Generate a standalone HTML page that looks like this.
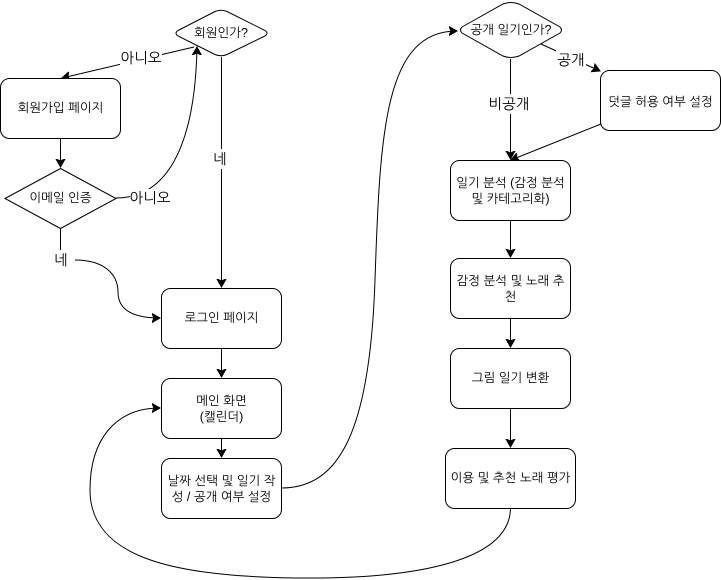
<!DOCTYPE html>
<html><head><meta charset="utf-8">
<style>
html,body{margin:0;padding:0;background:#fff;width:721px;height:580px;overflow:hidden}
svg{display:block}
text{font-family:"Liberation Sans","NanumGothic","Noto Sans CJK KR",sans-serif;font-size:12.5px;fill:#000;text-anchor:middle}
.l{font-size:14.5px}
.n{fill:#fff;stroke:#000;stroke-width:1}
.e{fill:none;stroke:#000;stroke-width:1}
</style></head><body>
<svg width="721" height="580" viewBox="0 0 721 580" xmlns="http://www.w3.org/2000/svg">
<defs><marker id="a" markerUnits="userSpaceOnUse" markerWidth="12" markerHeight="12" refX="8" refY="5" orient="auto" viewBox="0 0 12 10"><path d="M0 0.5L8 5L0 9.500L2 5Z" fill="#000" stroke="#000"/></marker></defs>

<path class="e" d="M194 47L62 78" marker-end="url(#a)"/>
<path class="e" d="M60.500 138.500V167" marker-end="url(#a)"/>
<path class="e" d="M116 198C165 198 195 150 197 47" marker-end="url(#a)"/>
<path class="e" d="M60.500 228V250M75 260C105 260 118 275 118 292C118 308 130 318 160 318" marker-end="url(#a)"/>
<path class="e" d="M221.500 57V287" marker-end="url(#a)"/>
<path class="e" d="M221.500 348.500V377" marker-end="url(#a)"/>
<path class="e" d="M221.500 438.500V457" marker-end="url(#a)"/>
<path class="e" d="M281.500 488C340 488 370 430 375 280C380 130 385 31 457 31" marker-end="url(#a)"/>
<path class="e" d="M510.500 508C510 560 420 578 310 578C180 578 90 560 90 490C90 440 115 408 160 408" marker-end="url(#a)"/>
<path class="e" d="M510.500 59V159" marker-end="url(#a)"/>
<path class="e" d="M541 44L600 71" marker-end="url(#a)"/>
<path class="e" d="M601 124L511 160" marker-end="url(#a)"/>
<path class="e" d="M510.500 220.500V257" marker-end="url(#a)"/>
<path class="e" d="M510.500 318.500V347" marker-end="url(#a)"/>
<path class="e" d="M510.500 408.500V447" marker-end="url(#a)"/>

<rect class="n" x="0.500" y="78.500" width="120" height="60" rx="9"/>
<path class="n" d="M5 198.500L60.500 168.500L116 198.500L60.500 228.500Z"/>
<path class="n" d="M178 30.500L215 11.500Q221 9 227 11.500L265 30.500Q269 33 265 36L227 54.500Q221 57 215 54.500L178 36Q174 33 178 30.500Z"/>
<path class="n" d="M462 27L503 4Q511 1 519 4L560 27Q563 30 560 33L519 56Q511 59 503 56L462 33Q459 30 462 27Z"/>
<rect class="n" x="161.500" y="288.500" width="120" height="60" rx="9"/>
<rect class="n" x="161.500" y="378.500" width="120" height="60" rx="9"/>
<rect class="n" x="161.500" y="458.500" width="120" height="60" rx="9"/>
<rect class="n" x="600.500" y="70.500" width="120" height="60" rx="9"/>
<rect class="n" x="450.500" y="160.500" width="120" height="60" rx="9"/>
<rect class="n" x="450.500" y="258.500" width="120" height="60" rx="9"/>
<rect class="n" x="450.500" y="348.500" width="120" height="60" rx="9"/>
<rect class="n" x="445.500" y="448.500" width="130" height="60" rx="9"/>

<text x="60.500" y="112">회원가입 페이지</text>
<text x="60.500" y="202">이메일 인증</text>
<text x="221" y="37">회원인가?</text>
<text x="511" y="34">공개 일기인가?</text>
<text x="221.500" y="322">로그인 페이지</text>
<text x="221.500" y="405">메인 화면</text>
<text x="221.500" y="421">(캘린더)</text>
<text x="221.500" y="485">날짜 선택 및 일기 작</text>
<text x="221.500" y="501">성 / 공개 여부 설정</text>
<text x="660.500" y="106">덧글 허용 여부 설정</text>
<text x="510.500" y="187">일기 분석 (감정 분석</text>
<text x="510.500" y="203">및 카테고리화)</text>
<text x="510.500" y="285">감정 분석 및 노래 추</text>
<text x="510.500" y="301">천</text>
<text x="510.500" y="382">그림 일기 변환</text>
<text x="510.500" y="482">이용 및 추천 노래 평가</text>

<rect x="120" y="48" width="42" height="18" fill="#fff"/>
<text class="l" x="141" y="63">아니오</text>
<rect x="130" y="189" width="41" height="18" fill="#fff"/>
<text class="l" x="150" y="203">아니오</text>
<rect x="53" y="250" width="22" height="20" fill="#fff"/>
<text class="l" x="61" y="265">네</text>
<rect x="213" y="149" width="16" height="20" fill="#fff"/>
<text class="l" x="220" y="164">네</text>
<rect x="488" y="94" width="44" height="20" fill="#fff"/>
<text class="l" x="509" y="109">비공개</text>
<rect x="556" y="50" width="30" height="18" fill="#fff"/>
<text class="l" x="571" y="65">공개</text>
</svg>
</body></html>
